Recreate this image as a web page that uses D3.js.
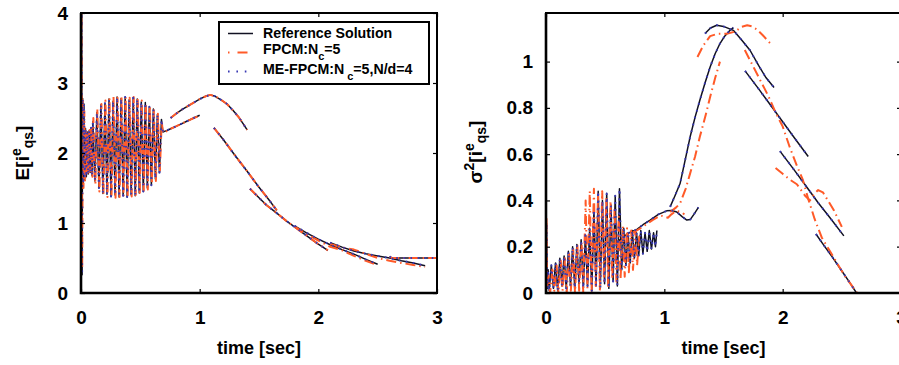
<!DOCTYPE html>
<html>
<head>
<meta charset="utf-8">
<script src="https://cdn.jsdelivr.net/npm/d3@7"></script>
<style>
    body { margin: 0; background: #fff; }
    svg text { font-family: "Liberation Sans", Arial, sans-serif; font-weight: bold; fill: #000; }
</style>
</head>
<body>
<svg id="chart" width="899" height="365"></svg>
<script>
/* ---- left panel : E[i_qs] , [time, value] ---- */
const refOscLeft = [
    [0.000, 2.00], [0.004, 4.00], [0.009, 0.26], [0.014, 2.78], [0.019, 1.55], [0.025, 2.70], [0.031, 1.62],
    [0.038, 2.35], [0.045, 1.66], [0.053, 2.30], [0.061, 1.70], [0.069, 2.32], [0.077, 1.72], [0.085, 2.36],
    [0.093, 1.68], [0.100, 2.45], [0.117, 1.60], [0.134, 2.58], [0.151, 1.50], [0.168, 2.69], [0.185, 1.42],
    [0.202, 2.71], [0.219, 1.41], [0.236, 2.77], [0.253, 1.38], [0.270, 2.74], [0.287, 1.40], [0.304, 2.80],
    [0.321, 1.37], [0.338, 2.78], [0.355, 1.39], [0.372, 2.80], [0.389, 1.37], [0.406, 2.76], [0.423, 1.40],
    [0.440, 2.79], [0.457, 1.39], [0.474, 2.77], [0.491, 1.43], [0.508, 2.73], [0.525, 1.45], [0.542, 2.72],
    [0.559, 1.50], [0.576, 2.66], [0.593, 1.54], [0.610, 2.63], [0.627, 1.63], [0.644, 2.55], [0.661, 1.72],
    [0.678, 2.48], [0.690, 2.30], [0.720, 2.32], [0.760, 2.35], [0.800, 2.38], [0.850, 2.42], [0.900, 2.46],
    [0.950, 2.50], [1.000, 2.54]
];
const fpcmOscLeft = [
    [0.000, 2.10], [0.004, 4.00], [0.010, 0.35], [0.016, 2.78], [0.021, 1.50], [0.028, 2.60], [0.034, 1.58],
    [0.042, 2.33], [0.049, 1.68], [0.057, 2.28], [0.065, 1.72], [0.073, 2.33], [0.081, 1.74], [0.089, 2.38],
    [0.096, 1.66], [0.104, 2.50], [0.121, 1.55], [0.138, 2.63], [0.155, 1.45], [0.172, 2.70], [0.189, 1.40],
    [0.206, 2.75], [0.223, 1.37], [0.240, 2.78], [0.257, 1.37], [0.274, 2.80], [0.291, 1.36], [0.308, 2.79],
    [0.325, 1.37], [0.342, 2.81], [0.359, 1.38], [0.376, 2.80], [0.393, 1.37], [0.410, 2.79], [0.427, 1.38],
    [0.444, 2.80], [0.461, 1.40], [0.478, 2.76], [0.495, 1.41], [0.512, 2.75], [0.529, 1.46], [0.546, 2.71],
    [0.563, 1.48], [0.580, 2.68], [0.597, 1.56], [0.614, 2.61], [0.631, 1.60], [0.648, 2.56], [0.665, 1.75],
    [0.680, 2.46], [0.690, 2.29], [0.720, 2.31], [0.760, 2.35], [0.800, 2.38], [0.850, 2.42], [0.900, 2.46],
    [0.950, 2.50], [1.000, 2.53]
];
const peakLeft = [
    [0.755, 2.50], [0.80, 2.56], [0.85, 2.62], [0.90, 2.67], [0.95, 2.72], [1.00, 2.77], [1.05, 2.81],
    [1.09, 2.83], [1.13, 2.81], [1.18, 2.76], [1.23, 2.70], [1.28, 2.61], [1.33, 2.51], [1.37, 2.41], [1.40, 2.33]
];
const fallLeft = [[1.12, 2.36], [1.20, 2.19], [1.30, 1.96], [1.40, 1.74], [1.50, 1.51], [1.58, 1.34], [1.65, 1.18]];
const dropLeft = [
    [1.424, 1.49], [1.50, 1.36], [1.56, 1.26], [1.65, 1.14], [1.73, 1.03], [1.82, 0.92], [1.90, 0.82],
    [1.99, 0.71], [2.08, 0.61]
];
const refTailLeft = [[1.80, 0.96], [1.90, 0.86], [2.00, 0.77], [2.10, 0.69], [2.20, 0.62], [2.30, 0.555], [2.40, 0.48], [2.50, 0.41]];
const refLateLeft = [[2.10, 0.72], [2.20, 0.655], [2.30, 0.60], [2.40, 0.56], [2.50, 0.53], [2.60, 0.50], [2.70, 0.46], [2.80, 0.43], [2.90, 0.39]];
const fpcmTailLeft = [[1.80, 0.95], [1.90, 0.84], [2.00, 0.75], [2.10, 0.66], [2.20, 0.61], [2.30, 0.53], [2.40, 0.46], [2.50, 0.40]];
const fpcmLateLeft = [[2.10, 0.70], [2.20, 0.65], [2.30, 0.62], [2.40, 0.56], [2.50, 0.50], [2.60, 0.46], [2.70, 0.43], [2.80, 0.40], [2.90, 0.37]];
const flatLeft = [[2.60, 0.52], [2.62, 0.50], [3.00, 0.50]];

/* ---- right panel : sigma^2[i_qs] ---- */
const refOscRight = [
    [0.000, 0.00], [0.004, 0.30], [0.010, 0.02], [0.018, 0.10], [0.027, 0.01], [0.045, 0.12], [0.063, 0.02],
    [0.081, 0.13], [0.099, 0.01], [0.117, 0.15], [0.135, 0.03], [0.153, 0.16], [0.171, 0.02], [0.189, 0.18],
    [0.207, 0.03], [0.225, 0.20], [0.243, 0.02], [0.261, 0.21], [0.279, 0.04], [0.297, 0.23], [0.315, 0.02],
    [0.333, 0.25], [0.351, 0.03], [0.369, 0.28], [0.387, 0.01], [0.405, 0.36], [0.423, 0.03], [0.441, 0.44],
    [0.459, 0.02], [0.477, 0.40], [0.495, 0.04], [0.513, 0.43], [0.531, 0.02], [0.549, 0.38], [0.567, 0.05],
    [0.585, 0.42], [0.603, 0.03], [0.621, 0.45], [0.639, 0.10], [0.657, 0.28], [0.675, 0.12], [0.693, 0.26],
    [0.711, 0.13], [0.729, 0.27], [0.747, 0.15], [0.765, 0.26], [0.783, 0.16], [0.801, 0.27], [0.819, 0.17],
    [0.837, 0.26], [0.855, 0.18], [0.873, 0.27], [0.891, 0.19], [0.909, 0.26], [0.925, 0.20], [0.937, 0.27]
];
const fpcmOscRight = [
    [0.000, 0.00], [0.004, 0.33], [0.010, 0.02], [0.020, 0.08], [0.035, 0.00], [0.055, 0.11], [0.070, 0.01],
    [0.090, 0.12], [0.105, 0.00], [0.125, 0.14], [0.140, 0.01], [0.160, 0.15], [0.175, 0.00], [0.195, 0.17],
    [0.210, 0.01], [0.230, 0.19], [0.245, 0.00], [0.265, 0.21], [0.280, 0.01], [0.300, 0.22], [0.315, 0.00],
    [0.335, 0.40], [0.350, 0.02], [0.370, 0.44], [0.385, 0.00], [0.405, 0.45], [0.420, 0.03], [0.440, 0.43],
    [0.455, 0.01], [0.475, 0.44], [0.490, 0.05], [0.510, 0.41], [0.525, 0.03], [0.545, 0.40], [0.560, 0.06],
    [0.580, 0.37], [0.595, 0.05], [0.615, 0.33], [0.630, 0.06], [0.650, 0.29], [0.665, 0.07], [0.685, 0.28],
    [0.700, 0.09], [0.720, 0.27], [0.735, 0.10], [0.755, 0.27], [0.770, 0.12], [0.790, 0.26]
];
const refBumpRight = [
    [0.60, 0.22], [0.65, 0.24], [0.70, 0.26], [0.768, 0.275], [0.82, 0.295], [0.88, 0.315], [0.95, 0.34],
    [1.02, 0.355], [1.06, 0.357], [1.105, 0.35], [1.15, 0.33], [1.19, 0.315], [1.22, 0.318], [1.25, 0.34], [1.288, 0.37]
];
const fpcmBumpRight = [
    [0.60, 0.21], [0.70, 0.25], [0.80, 0.28], [0.90, 0.315], [0.97, 0.335], [1.00, 0.33], [1.03, 0.325],
    [1.06, 0.34], [1.10, 0.355], [1.14, 0.35], [1.17, 0.34]
];
const refRiseRight = [
    [1.049, 0.372], [1.09, 0.42], [1.133, 0.473], [1.17, 0.56], [1.218, 0.675], [1.26, 0.76], [1.30, 0.833],
    [1.345, 0.91], [1.387, 0.977], [1.43, 1.035], [1.47, 1.078], [1.51, 1.11], [1.555, 1.135], [1.583, 1.147]
];
const fpcmRiseRight = [
    [1.05, 0.35], [1.10, 0.37], [1.133, 0.387], [1.18, 0.45], [1.218, 0.517], [1.26, 0.59], [1.30, 0.675],
    [1.35, 0.77], [1.387, 0.847], [1.43, 0.93], [1.47, 1.00]
];
const refPeakRight = [
    [1.344, 1.121], [1.39, 1.145], [1.443, 1.157], [1.50, 1.152], [1.583, 1.135], [1.65, 1.095], [1.724, 1.049],
    [1.80, 0.98], [1.86, 0.93], [1.927, 0.888]
];
const fpcmPeakRight = [
    [1.28, 1.02], [1.33, 1.07], [1.387, 1.11], [1.45, 1.12], [1.527, 1.12], [1.60, 1.13], [1.65, 1.15],
    [1.70, 1.157], [1.74, 1.152], [1.78, 1.14], [1.83, 1.115], [1.893, 1.08]
];
const refFall1Right = [[1.682, 0.96], [1.80, 0.88], [1.90, 0.81], [2.00, 0.74], [2.10, 0.67], [2.216, 0.59]];
const refFall2Right = [[1.977, 0.613], [2.10, 0.53], [2.20, 0.46], [2.30, 0.39], [2.40, 0.325], [2.517, 0.247]];
const refFall3Right = [[2.281, 0.255], [2.35, 0.205], [2.42, 0.155], [2.50, 0.095], [2.56, 0.05], [2.624, 0.00], [3.00, 0.00]];
const fpcmFall1Right = [
    [1.68, 1.05], [1.75, 0.98], [1.82, 0.91], [1.88, 0.85], [1.94, 0.78], [2.00, 0.72], [2.06, 0.63],
    [2.12, 0.55], [2.17, 0.49], [2.22, 0.40], [2.27, 0.32], [2.33, 0.24], [2.40, 0.18], [2.47, 0.12],
    [2.53, 0.07], [2.58, 0.035], [2.63, 0.00], [3.00, 0.00]
];
const fpcmFall2Right = [
    [1.94, 0.54], [2.00, 0.515], [2.06, 0.49], [2.12, 0.47], [2.19, 0.42], [2.23, 0.40], [2.27, 0.43],
    [2.30, 0.445], [2.34, 0.435], [2.37, 0.41], [2.43, 0.36], [2.50, 0.286]
];

const timeTicks = [0, 1, 2, 3];
const leftTicks = [0, 1, 2, 3, 4];
const rightTicks = [0, 0.2, 0.4, 0.6, 0.8, 1];
const legendNames = ['Reference Solution', 'FPCM:N', 'ME-FPCM:N'];

const styles = {
    ref: {color: '#111122', width: 1.5, dash: null},
    fpcm: {color: '#ff5a28', width: 2, dash: '10,4,1.5,4'},
    me: {color: '#3a3ab4', width: 2, dash: '1.6,5.5'}
};

function DrawPanel(svg, params) {
    this.svg = svg;
    this.left = params.left;
    this.right = params.right;
    this.top = 13;
    this.bottom = 293;
    this.yDomain = params.yDomain;
    this.yTicks = params.yTicks;
    this.id = params.id;
}

DrawPanel.prototype.init = function () {
    this.x = d3.scaleLinear().domain([0, 3]).range([this.left, this.right]);
    this.y = d3.scaleLinear().domain(this.yDomain).range([this.bottom, this.top]);

    this.svg.append('clipPath').attr('id', this.id)
        .append('rect')
        .attr('x', this.left).attr('y', this.top)
        .attr('width', this.right - this.left).attr('height', this.bottom - this.top);

    this.plot = this.svg.append('g').attr('clip-path', 'url(#' + this.id + ')');
};

DrawPanel.prototype.drawAxes = function () {
    let fmt = d3.format('~g');
    let g = this.svg.append('g');

    g.append('g').attr('transform', 'translate(0,' + this.bottom + ')')
        .call(d3.axisBottom(this.x).tickValues(timeTicks).tickFormat(fmt).tickSizeInner(-4).tickSizeOuter(0).tickPadding(18));
    g.append('g').attr('transform', 'translate(0,' + this.top + ')')
        .call(d3.axisTop(this.x).tickValues(timeTicks).tickFormat('').tickSizeInner(-4).tickSizeOuter(0));
    g.append('g').attr('transform', 'translate(' + this.left + ',0)')
        .call(d3.axisLeft(this.y).tickValues(this.yTicks).tickFormat(fmt).tickSizeInner(-4).tickSizeOuter(0).tickPadding(13));
    g.append('g').attr('transform', 'translate(' + this.right + ',0)')
        .call(d3.axisRight(this.y).tickValues(this.yTicks).tickFormat('').tickSizeInner(-4).tickSizeOuter(0));

    g.selectAll('.domain').remove();
    g.selectAll('.tick line').attr('stroke', '#000').attr('stroke-width', 1.2);
    g.selectAll('.tick text').attr('font-size', 19).attr('font-family', null);

    /* frame */
    g.append('rect')
        .attr('x', this.left).attr('y', this.top)
        .attr('width', this.right - this.left).attr('height', this.bottom - this.top)
        .attr('fill', 'none').attr('stroke', '#000').attr('stroke-width', 2);
    g.append('path')
        .attr('d', 'M' + this.left + ',' + this.top + 'V' + this.bottom + 'H' + this.right)
        .attr('fill', 'none').attr('stroke', '#000').attr('stroke-width', 2.6);

    this.svg.append('text')
        .attr('x', (this.left + this.right) / 2).attr('y', 354)
        .attr('text-anchor', 'middle').attr('font-size', 18)
        .text('time [sec]');
};

DrawPanel.prototype.drawSeries = function (segments, style) {
    let line = d3.line()
        .x(function (d) { return this.x(d[0]); }.bind(this))
        .y(function (d) { return this.y(d[1]); }.bind(this));

    this.plot.append('g').selectAll('path')
        .data(segments).enter().append('path')
        .attr('d', line)
        .attr('fill', 'none')
        .attr('stroke', style.color)
        .attr('stroke-width', style.width)
        .attr('stroke-dasharray', style.dash)
        .attr('stroke-linejoin', 'round');
};

/* y title with super / subscripts, rotated */
function yTitle(svg, x, y, prefix, withSquare) {
    let t = svg.append('text')
        .attr('transform', 'translate(' + x + ',' + y + ') rotate(-90)')
        .attr('text-anchor', 'middle').attr('font-size', 19);
    t.append('tspan').text(prefix);
    if (withSquare) {
        t.append('tspan').attr('font-size', 14).attr('dy', -8).text('2');
        t.append('tspan').attr('dy', 8).text('[i');
    } else {
        t.append('tspan').text('[i');
    }
    t.append('tspan').attr('font-size', 14).attr('dy', -8).text('e');
    t.append('tspan').attr('font-size', 14).attr('dy', 12).text('qs');
    t.append('tspan').attr('dy', -4).text(']');
}

const svg = d3.select('#chart');

const leftPanel = new DrawPanel(svg, {left: 81, right: 437, yDomain: [0, 4], yTicks: leftTicks, id: 'clipL'});
leftPanel.init();
leftPanel.drawSeries([refOscLeft, peakLeft, fallLeft, dropLeft, refTailLeft, refLateLeft, flatLeft], styles.ref);
leftPanel.drawSeries([fpcmOscLeft, peakLeft, fallLeft, dropLeft, fpcmTailLeft, fpcmLateLeft, flatLeft], styles.fpcm);
leftPanel.drawSeries([refOscLeft, peakLeft, fallLeft, dropLeft, refTailLeft, refLateLeft, flatLeft], styles.me);
leftPanel.drawAxes();

const rightPanel = new DrawPanel(svg, {left: 546, right: 901, yDomain: [0, 1.21], yTicks: rightTicks, id: 'clipR'});
rightPanel.init();
let refRight = [refOscRight, refBumpRight, refRiseRight, refPeakRight, refFall1Right, refFall2Right, refFall3Right];
rightPanel.drawSeries(refRight, styles.ref);
rightPanel.drawSeries([fpcmOscRight, fpcmBumpRight, fpcmRiseRight, fpcmPeakRight, fpcmFall1Right, fpcmFall2Right], styles.fpcm);
rightPanel.drawSeries(refRight, styles.me);
rightPanel.drawAxes();

yTitle(svg, 29, 153, 'E', false);
yTitle(svg, 482, 152, 'σ', true);

/* legend */
let legend = svg.append('g');
legend.append('rect')
    .attr('x', 219).attr('y', 22).attr('width', 210).attr('height', 62)
    .attr('fill', '#fff').attr('stroke', '#000').attr('stroke-width', 2);

legend.append('line').attr('x1', 228).attr('x2', 253).attr('y1', 33.5).attr('y2', 33.5)
    .attr('stroke', styles.ref.color).attr('stroke-width', 1.5);
legend.append('line').attr('x1', 228).attr('x2', 253).attr('y1', 52.5).attr('y2', 52.5)
    .attr('stroke', styles.fpcm.color).attr('stroke-width', 2).attr('stroke-dasharray', '1.5,8,10,100');
legend.append('line').attr('x1', 228).attr('x2', 253).attr('y1', 71.5).attr('y2', 71.5)
    .attr('stroke', styles.me.color).attr('stroke-width', 2).attr('stroke-dasharray', '1.6,6.8');

legend.append('text').attr('x', 263).attr('y', 37.5).attr('font-size', 14.2).text(legendNames[0]);

let t2 = legend.append('text').attr('x', 263).attr('y', 54).attr('font-size', 14.2);
t2.append('tspan').text(legendNames[1]);
t2.append('tspan').attr('font-size', 11).attr('dy', 6).text('c');
t2.append('tspan').attr('dy', -6).text('=5');

let t3 = legend.append('text').attr('x', 263).attr('y', 74).attr('font-size', 14.2);
t3.append('tspan').text(legendNames[2]);
t3.append('tspan').attr('font-size', 11).attr('dy', 6).attr('dx', 3).text('c');
t3.append('tspan').attr('dy', -6).text('=5,N/d=4');
</script>
</body>
</html>
